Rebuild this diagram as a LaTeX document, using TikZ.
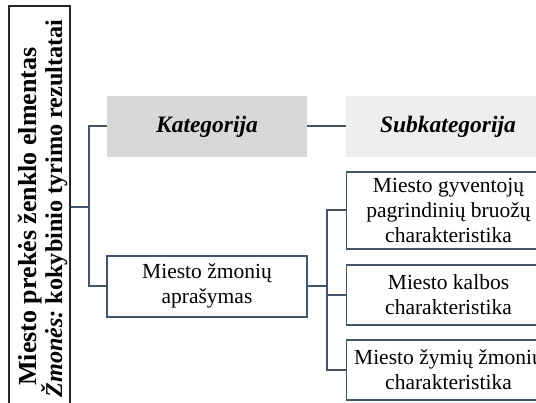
\documentclass[tikz,border=0pt]{standalone}
\usepackage{fontspec}
\setmainfont{Liberation Serif}
\definecolor{linkblue}{HTML}{44546A}
\definecolor{catgray}{HTML}{D8D8D8}
\definecolor{subgray}{HTML}{EEEEEE}
\definecolor{edgedark}{HTML}{262626}
\begin{document}
\begin{tikzpicture}[x=1pt,y=1pt,
  conn/.style={draw=linkblue,line width=2pt},
  headbox/.style={minimum width=200pt,minimum height=61pt,inner sep=0pt,
    font=\fontsize{23.5}{27}\selectfont\bfseries\itshape},
  itembox/.style={draw=linkblue,line width=1.6pt,fill=white,minimum width=200pt,
    inner sep=0pt,align=center,font=\fontsize{21.5}{25}\selectfont},
  titleline/.style={rotate=90,anchor=base,inner sep=0pt}]
\useasboundingbox (0,0) rectangle (536,-403);
\clip (0,0) rectangle (536,-403);

% title column on the left
\node[draw=edgedark,line width=1.5pt,minimum width=61pt,minimum height=404pt,inner sep=0pt]
  (main) at (39.5,-208) {};
\node[titleline,font=\fontsize{26}{26}\selectfont\bfseries] (maintop) at (36.5,-216.5)
  {Miesto prekės ženklo elmentas};
\node[titleline,font=\fontsize{24.2}{26}\selectfont\bfseries] (mainbot) at (62,-208.5)
  {\textit{Žmonės:}\ kokybinio tyrimo rezultatai};

% column headers
\node[headbox,fill=catgray] (kat) at (207,-126.5) {Kategorija};
\node[headbox,fill=subgray,minimum width=204pt] (sub) at (448,-126.5) {Subkategorija};

% category
\node[itembox,minimum height=61pt] (desc) at (207,-286.3) {Miesto žmonių\\aprašymas};

% subcategories
\node[itembox,minimum width=204pt,minimum height=77pt] (s1) at (448.5,-210.5)
  {Miesto gyventojų\\pagrindinių bruožų\\charakteristika};
\node[itembox,minimum width=204pt,minimum height=60pt] (s2) at (448.5,-295)
  {Miesto kalbos\\charakteristika};
\node[itembox,minimum width=204pt,minimum height=60pt] (s3) at (448.5,-370)
  {Miesto žymių žmonių\\charakteristika};

% connectors
\coordinate (j1) at (89,-206.7);
\coordinate (j2) at (326.7,-286.3);
\draw[conn] (main.east |- j1) -- (j1);
\draw[conn] (kat.west) -| (j1) |- (desc.west);
\draw[conn] (kat.east) -- (sub.west);
\draw[conn] (desc.east) -- (j2);
\draw[conn] (s1.west) -| (j2);
\draw[conn] (s2.west) -| (j2);
\draw[conn] (s3.west) -| (j2);
\end{tikzpicture}
\end{document}
